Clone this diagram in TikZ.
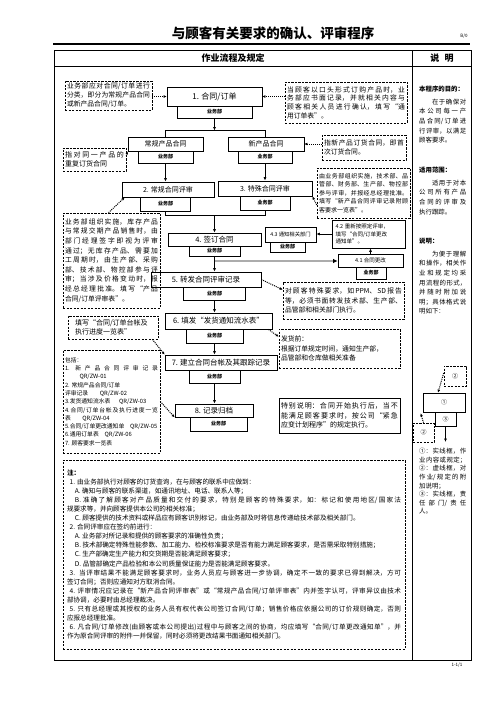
\documentclass[tikz,border=0pt]{standalone}
\usepackage{fontspec}
\setmainfont{Noto Sans CJK SC}
\usetikzlibrary{arrows.meta,calc}
\XeTeXlinebreaklocale "zh"
\XeTeXlinebreakskip=0pt plus 2pt
\tolerance=9999
\newcommand\fs[2]{\fontsize{#1pt}{#2pt}\selectfont}
\begin{document}
\begin{tikzpicture}[x=1pt,y=-1pt,
  box/.style={draw, line width=0.7pt, fill=white, inner sep=0pt, font=\fs{7.5}{9}},
  sub/.style={draw, line width=0.7pt, fill=white, inner sep=0pt, font=\bfseries\fs{5}{6}},
  note/.style={draw, line width=0.6pt, dash pattern=on 2.2pt off 1.3pt, inner sep=2pt, align=justify, font=\fs{6.8}{9}},
  kbox/.style={draw, line width=0.7pt, inner sep=2pt, align=justify, font=\fs{7}{9.5}},
  darr/.style={line width=1pt, dash pattern=on 1pt off 1pt, -{Latex[length=3pt,width=2.8pt]}},
  sarr/.style={line width=0.7pt, -{Latex[length=3.5pt,width=3pt]}},
  conn/.style={line width=0.7pt},
  plain/.style={inner sep=0pt},
  rtext/.style={inner sep=0pt, anchor=north west, text width=47pt, align=justify, font=\fs{6.4}{9.6}},
]
\useasboundingbox (0,0) rectangle (496,702);
% ---------- header ----------
\node[plain, font=\bfseries\fs{13.5}{15}] (title) at (273,33) {与顾客有关要求的确认、评审程序};
\node[plain, font=\fs{4.5}{5}] (ver) at (464,36) {B/0};
\draw[line width=2.6pt] (53,44) -- (470,44);
\draw[line width=0.9pt] (54,50.5) rectangle (471,660);
\draw[line width=0.9pt] (54,66) -- (471,66);
\draw[line width=0.9pt] (412,50.5) -- (412,660);
\node[plain, font=\bfseries\fs{9}{10}] (h1) at (233,58) {作业流程及规定};
\node[plain, font=\bfseries\fs{9}{10}] (h2) at (442,58) {说\hspace{0.6em}明};
\node[plain, font=\fs{4.5}{5}] (pg) at (457,665) {1-1/1};
% ---------- flow boxes ----------
\node[box, minimum width=95pt, minimum height=19pt, font=\fs{8}{9}] (b1) at (214.5,96.5) {1. 合同/订单};
\node[sub, minimum width=75pt, minimum height=12pt] (b1s) at (214.5,112) {业务部};
\coordinate (j1) at (214.5,130.5);
\node[box, minimum width=75pt, minimum height=14pt, font=\fs{7}{8}] (c1) at (165.5,144) {常规产品合同};
\node[sub, minimum width=55pt, minimum height=12pt] (c1s) at (165.5,157) {业务部};
\node[box, minimum width=76pt, minimum height=14pt, font=\fs{7}{8}] (n1) at (266,144) {新产品合同};
\node[sub, minimum width=54pt, minimum height=12pt] (n1s) at (265,157) {业务部};
\node[box, minimum width=92pt, minimum height=15pt, font=\fs{7}{8}] (b2) at (168,189.5) {2. 常规合同评审};
\node[sub, minimum width=50pt, minimum height=14pt] (b2s) at (165.5,204) {业务部};
\node[box, minimum width=94pt, minimum height=15pt, font=\fs{7}{8}] (b3) at (265,188.5) {3. 特殊合同评审};
\node[sub, minimum width=50pt, minimum height=14pt] (b3s) at (265,203) {业务部};
\coordinate (j2) at (214.5,215);
\node[box, minimum width=93pt, minimum height=13pt] (b4) at (214.5,239.5) {4. 签订合同};
\node[sub, minimum width=51pt, minimum height=10pt] (b4s) at (214.5,251) {业务部};
\coordinate (g0) at (214.5,261);
\node[box, minimum width=110pt, minimum height=15pt] (b5) at (206,279.5) {5. 转发合同评审记录};
\node[sub, minimum width=62pt, minimum height=13pt] (b5s) at (214.5,293.5) {业务部};
\node[box, minimum width=107pt, minimum height=16pt] (b6) at (218.5,321) {6. 填发“发货通知流水表”};
\node[sub, minimum width=57pt, minimum height=14pt] (b6s) at (214.5,336) {业务部};
\node[box, minimum width=112pt, minimum height=15pt] (b7) at (221,362.5) {7. 建立合同台帐及其跟踪记录};
\node[sub, minimum width=51pt, minimum height=13pt] (b7s) at (214.5,376.5) {业务部};
\node[box, minimum width=78pt, minimum height=13pt] (b8) at (214,410.5) {8. 记录归档};
\node[sub, minimum width=57pt, minimum height=14pt] (b8s) at (218.5,424) {业务部};
% 4.x branch
\node[box, minimum width=65pt, minimum height=13pt, font=\fs{5.5}{6.5}] (b41) at (370.5,260.5) {4.1 合同更改};
\node[sub, minimum width=30pt, minimum height=12pt] (b41s) at (371,273) {业务部};
\node[box, minimum width=73pt, minimum height=28pt, inner sep=3pt, text width=66pt, align=left, font=\fs{5.5}{7.5}] (b42) at (368.5,234) {4.2 重新按照定评审，\\填写“合同/订单更改\\通知单”。};
\node[box, minimum width=51pt, minimum height=15pt, font=\fs{5.3}{6.5}] (b43) at (290.5,234.5) {4.3 通知相关部门};
\node[sub, minimum width=35pt, minimum height=10pt] (b43s) at (287.5,247) {业务部};
% ---------- dashed notes ----------
\node[note, minimum width=87pt, minimum height=29pt, text width=83pt] (A) at (108.5,95.5)
  {业务部应对合同/订单进行\linebreak 分类，即分为常规产品合同\linebreak 或新产品合同/订单。};
\node[note, minimum width=122pt, minimum height=41pt, text width=118pt, font=\fs{6.8}{8.7}] (B) at (346,102.5)
  {当顾客以口头形式订购产品时，业\linebreak 务部应书面记录，并就相关内容与\linebreak 顾客相关人员进行确认，填写“通\linebreak 用订单表”。};
\node[note, minimum width=63pt, minimum height=23pt, text width=59pt, font=\fs{7}{9}] (C) at (94.5,159.5)
  {指对同一产品的\linebreak 重复订货合同};
\node[note, minimum width=84pt, minimum height=25pt, text width=80pt] (D) at (364,147.5)
  {指新产品订货合同，即首\linebreak 次订货合同。};
\node[note, minimum width=97pt, minimum height=95pt, text width=93pt, font=\fs{6.8}{9.6}] (E) at (111.5,260.5)
  {业务部组织实施，库存产品\linebreak 与常规交期产品销售时，由\linebreak 部门经理签字即视为评审\linebreak 通过；无库存产品、需要加\linebreak 工周期时，由生产部、采购\linebreak 部、技术部、物控部参与评\linebreak 审；当涉及价格变动时，报\linebreak 经总经理批准。填写“产品\linebreak 合同/订单评审表”。};
\node[note, minimum width=93pt, minimum height=50pt, text width=89pt, font=\fs{6}{8.5}] (F) at (363.5,193)
  {由业务部组织实施，技术部、品\linebreak 管部、财务部、生产部、物控部\linebreak 参与评审，并报经总经理批准。\linebreak 填写“新产品合同评审记录附顾\linebreak 客要求一览表”。};
\node[note, minimum width=121pt, minimum height=37pt, text width=117pt, font=\fs{6.8}{9.5}] (G) at (343.5,300.5)
  {对顾客特殊要求，如PPM、SD报告\linebreak 等，必须书面转发技术部、生产部、\linebreak 品管部和相关部门执行。};
\node[note, minimum width=121pt, minimum height=39pt, text width=117pt, align=left, font=\fs{6.8}{9.5}] (H) at (339.5,348.5)
  {发货前：\\根据订单规定时间，通知生产部，\\品管部和仓库做相关准备};
\node[note, minimum width=90pt, minimum height=23pt, text width=76pt, align=left, font=\fs{7}{9.5}] (I) at (113,327.5)
  {填写“合同/订单台帐及\\执行进度一览表”};
\node[note, minimum width=97pt, minimum height=103pt, text width=93pt, font=\fs{5.8}{8.3}] (J) at (111.5,401.5)
  {包括：\\1. 新产品合同评审记录\linebreak \hspace*{2.5em}QR/ZW-01\\2. 常规产品合同/订单\\评审记录\hspace{2em}QR/ZW-02\\3.发货通知流水表\hspace{1.5em}QR/ZW-03\\4.合同/订单台帐及执行进度一览\linebreak 表\hspace{2em}QR/ZW-04\\5.合同/订单更改通知单\hspace{1em}QR/ZW-05\\6.通用订单表\hspace{1em}QR/ZW-06\\7. 顾客要求一览表};
\node[kbox, minimum width=121pt, minimum height=35pt, text width=117pt] (K) at (339.5,415.5)
  {特别说明：合同开始执行后，当不\linebreak 能满足顾客要求时，按公司“紧急\linebreak 应变计划程序”的规定执行。};
\node[note, minimum width=342pt, minimum height=189pt, text width=334pt, inner sep=4pt, font=\fs{6.6}{9.05}] (L) at (234,554.5)
  {{\bfseries 注：}\par
   \hspace*{0.4em}1. 由业务部执行对顾客的订货查询，在与顾客的联系中应做到：\par
   \hspace*{1.2em}A. 确知与顾客的联系渠道，如通讯地址、电话、联系人等；\par
   \hspace*{1.2em}B. 准确了解顾客对产品质量和交付的要求，特别是顾客的特殊要求，如：标记和使用地区/国家法\linebreak 规要求等，并向顾客提供本公司的相关标准；\par
   \hspace*{1.2em}C. 顾客提供的技术资料或样品应有顾客识别标记，由业务部及时将信息传递给技术部及相关部门。\par
   \hspace*{0.4em}2. 合同评审应在签约前进行：\par
   \hspace*{1.2em}A. 业务部对所记录和提供的顾客要求的准确性负责；\par
   \hspace*{1.2em}B. 技术部确定特殊性能参数、加工能力、检校标准要求是否有能力满足顾客要求，是否需采取特别措施；\par
   \hspace*{1.2em}C. 生产部确定生产能力和交货期是否能满足顾客要求；\par
   \hspace*{1.2em}D. 品管部确定产品检验和本公司质量保证能力是否能满足顾客要求。\par
   \hspace*{0.4em}3.\hspace{0.6em}当评审结果不能满足顾客要求时，业务人员应与顾客进一步协调，确定不一致的要求已得到解决，方可\linebreak 签订合同；否则应通知对方取消合同。\par
   \hspace*{0.4em}4. 评审情况应记录在“新产品合同评审表”或“常规产品合同/订单评审表”内并签字认可，评审异议由技术\linebreak 部协调，必要时由总经理裁决。\par
   \hspace*{0.4em}5. 只有总经理或其授权的业务人员有权代表公司签订合同/订单；销售价格应依据公司的订价规则确定，否则\linebreak 应报总经理批准。\par
   \hspace*{0.4em}6. 凡合同/订单修改(由顾客或本公司提出)过程中与顾客之间的协商，均应填写“合同/订单更改通知单”，并\linebreak 作为原合同评审的附件一并保留，同时必须将更改结果书面通知相关部门。};
% ---------- right column ----------
\node[rtext] (r1) at (419,86) {{\bfseries 本程序的目的：}\par\vspace{3pt}\hspace*{2em}在于确保对\linebreak 本公司每一产\linebreak 品合同/订单进\linebreak 行评审，以满足\linebreak 顾客要求。};
\node[rtext] (r2) at (419,167) {{\bfseries 适用范围：}\par\vspace{3pt}\hspace*{2em}适用于对本\linebreak 公司所有产品\linebreak 合同的评审及\linebreak 执行跟踪。};
\node[rtext] (r3) at (419,238) {{\bfseries 说明：}\par\vspace{3pt}\hspace*{2em}为便于理解\linebreak 和操作，相关作\linebreak 业和规定均采\linebreak 用流程的形式，\linebreak 并随时附加说\linebreak 明；具体格式说\linebreak 明如下：};
\node[note, minimum width=22pt, minimum height=20pt, font=\fs{6}{7}] (L2a) at (455,376) {②};
\node[box, minimum width=42pt, minimum height=19pt, font=\fs{6}{7}] (L1) at (444,402.5) {①};
\node[box, minimum width=21pt, minimum height=14pt, font=\fs{6}{7}] (L3) at (445.5,419) {③};
\node[note, minimum width=21pt, minimum height=19pt, font=\fs{6}{7}] (L2b) at (423.5,432.5) {②};
\coordinate (L3e) at (445.5,442);
\node[rtext, font=\fs{6.4}{8.6}] (r4) at (419,448) {①：实线框，作\linebreak 业内容或规定；\linebreak ②：虚线框，对\linebreak 作业/规定的附\linebreak 加说明；\par ③：实线框，责\linebreak 任部门/责任\linebreak 人。};
% ---------- connectors ----------
\draw[sarr] (b1s.south) -- (j1);
\draw[conn] (c1.north) -- (c1.north |- j1) -- (n1s.south |- j1) -- (n1s.south |- n1.north);
\draw[sarr] (c1s.south) -- (c1s.south |- b2.north);
\draw[sarr] (n1s.south) -- (n1s.south |- b3.north);
\draw[conn] (b2s.south) -- (b2s.south |- j2) -- (b3s.south |- j2) -- (b3s.south);
\draw[sarr] (j2) -- (j2 |- b4.north);
\draw[line width=1.8pt, gray!65, -{Latex[length=4.5pt,width=4.5pt,color=black]}] (g0) -- (g0 -| b41.west);
\draw[sarr] (b4s.south) -- (b4s.south |- b5.north);
\draw[sarr] (b5s.south) -- (b5s.south |- b6.north);
\draw[sarr] (b6s.south) -- (b6s.south |- b7.north);
\draw[sarr] (b7s.south) -- (b7s.south |- b8.north);
\draw[sarr] (b41.north) -- (b41.north |- b42.south);
\draw[sarr] (b42.west) -- (b42.west -| b43.east);
\draw[sarr] (L3.south) -- (L3e);
% dotted
\draw[darr] (A.east |- b1.west) -- (b1.west);
\draw[darr] (B.west |- b1.east) -- (b1.east);
\draw[darr] ($(C.north east)+(0,8)$) -- (c1.south west);
\draw[darr] (D.west |- n1.east) -- (n1.east);
\draw[darr] ($(E.north)+(-3,0)$) -- ($(b2.south west)+(3,0)$);
\draw[darr] ($(F.west)+(0,12)$) -- (b3.south east);
\draw[darr] (b5.east) -- ($(G.north west)+(0,8)$);
\draw[darr] ($(b6.south east)+(-4,0)$) -- ($(H.north west)+(0,8)$);
\draw[darr] ($(I.south east)+(-6,0)$) -- (b7.north west);
\draw[darr] (J.east) -- (b8.south west);
\draw[darr] ($(L2a.west)+(0,-3)$) -- ($(L1.north)+(-6,0)$);
\draw[darr] (L2b.north) -- ($(L1.south west)+(-2,1)$);
\end{tikzpicture}
\end{document}
